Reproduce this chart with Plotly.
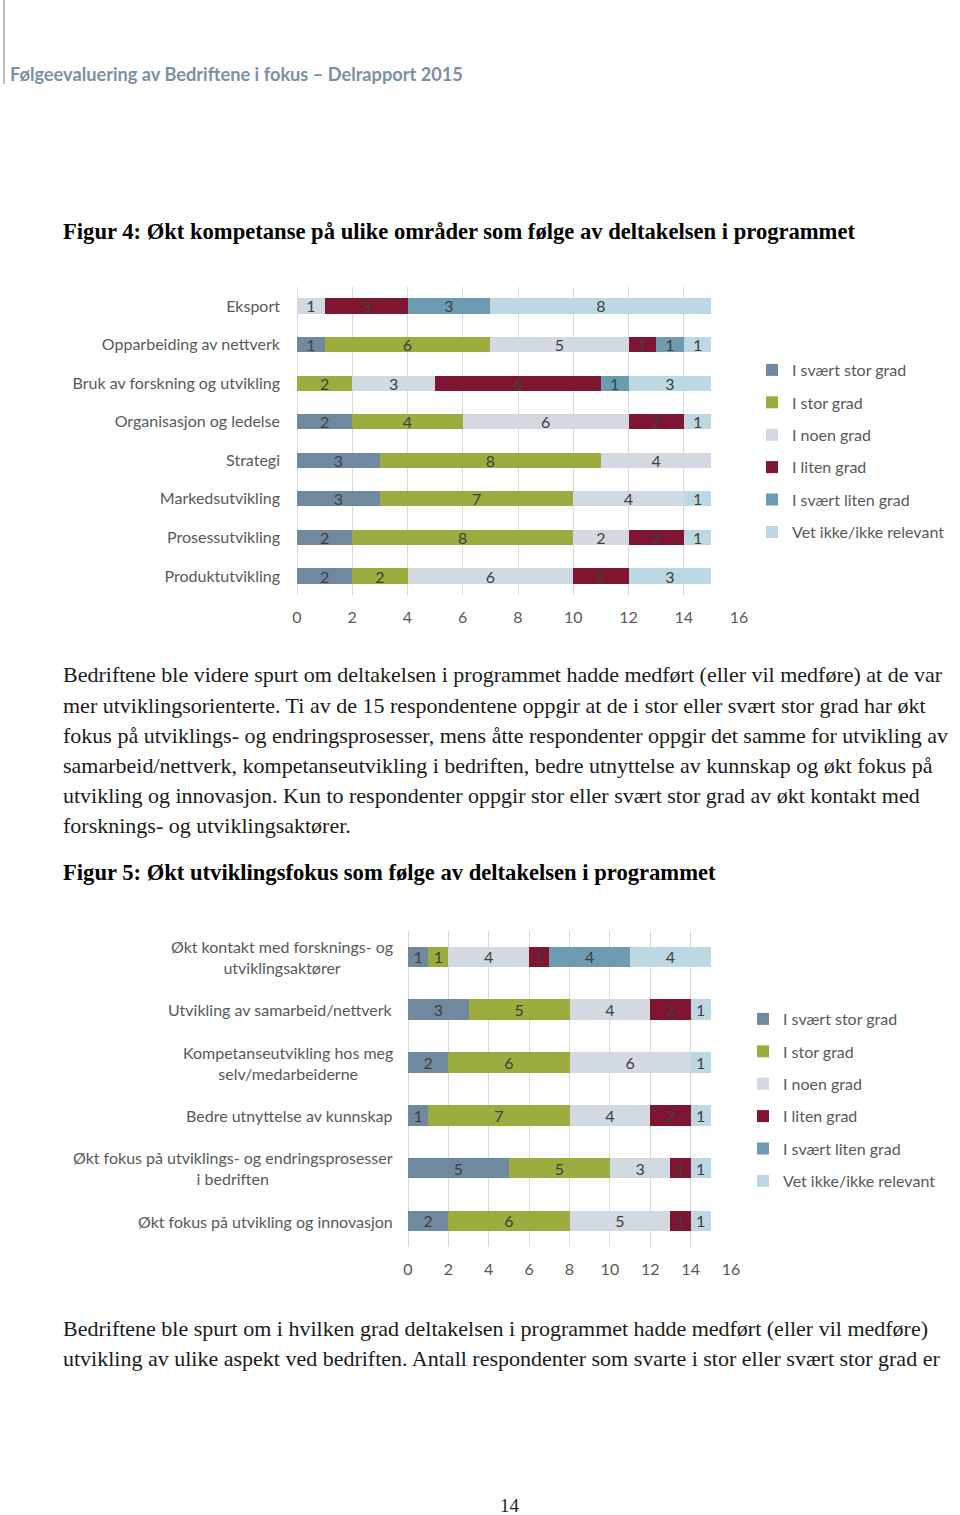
import plotly.graph_objects as go

W, H = 960, 1515

# ---------------- data ----------------
series = ["I svært stor grad", "I stor grad", "I noen grad", "I liten grad",
          "I svært liten grad", "Vet ikke/ikke relevant"]
colors = ["#70899f", "#9cac3e", "#d3d9e0", "#7e1632", "#6c9bb2", "#bcd8e3"]

cats1 = ["Eksport", "Opparbeiding av nettverk", "Bruk av forskning og utvikling",
         "Organisasjon og ledelse", "Strategi", "Markedsutvikling",
         "Prosessutvikling", "Produktutvikling"]
svaert_stor1 = [0, 1, 0, 2, 3, 3, 2, 2]
stor1 = [0, 6, 2, 4, 8, 7, 8, 2]
noen1 = [1, 5, 3, 6, 4, 4, 2, 6]
liten1 = [3, 1, 6, 2, 0, 0, 2, 2]
svaert_liten1 = [3, 1, 1, 0, 0, 0, 0, 0]
vet_ikke1 = [8, 1, 3, 1, 0, 1, 1, 3]

cats2 = ["Økt kontakt med forsknings- og<br>utviklingsaktører",
         "Utvikling av samarbeid/nettverk",
         "Kompetanseutvikling hos meg<br>selv/medarbeiderne",
         "Bedre utnyttelse av kunnskap",
         "Økt fokus på utviklings- og endringsprosesser<br>i bedriften",
         "Økt fokus på utvikling og innovasjon"]
svaert_stor2 = [1, 3, 2, 1, 5, 2]
stor2 = [1, 5, 6, 7, 5, 6]
noen2 = [4, 4, 6, 4, 3, 5]
liten2 = [1, 2, 0, 2, 1, 1]
svaert_liten2 = [4, 0, 0, 0, 0, 0]
vet_ikke2 = [4, 1, 1, 1, 1, 1]

xticks = [0, 2, 4, 6, 8, 10, 12, 14, 16]

header = "Følgeevaluering av Bedriftene i fokus – Delrapport 2015"
title4 = "Figur 4: Økt kompetanse på ulike områder som følge av deltakelsen i programmet"
title5 = "Figur 5: Økt utviklingsfokus som følge av deltakelsen i programmet"
para1 = [
    "Bedriftene ble videre spurt om deltakelsen i programmet hadde medført (eller vil medføre) at de var",
    "mer utviklingsorienterte. Ti av de 15 respondentene oppgir at de i stor eller svært stor grad har økt",
    "fokus på utviklings- og endringsprosesser, mens åtte respondenter oppgir det samme for utvikling av",
    "samarbeid/nettverk, kompetanseutvikling i bedriften, bedre utnyttelse av kunnskap og økt fokus på",
    "utvikling og innovasjon. Kun to respondenter oppgir stor eller svært stor grad av økt kontakt med",
    "forsknings- og utviklingsaktører.",
]
para2 = [
    "Bedriftene ble spurt om i hvilken grad deltakelsen i programmet hadde medført (eller vil medføre)",
    "utvikling av ulike aspekt ved bedriften. Antall respondenter som svarte i stor eller svært stor grad er",
]
page_no = "14"

# ---------------- helpers ----------------
def px(x):
    return x / W

def py(y):
    return 1 - y / H

SANS = "Lato, 'Open Sans', sans-serif"
SERIF = "'Liberation Serif', 'DejaVu Serif', serif"
GRAY = "#595959"
FS = 16

fig = go.Figure()

data1 = [svaert_stor1, stor1, noen1, liten1, svaert_liten1, vet_ikke1]
data2 = [svaert_stor2, stor2, noen2, liten2, svaert_liten2, vet_ikke2]

for i, (name, col) in enumerate(zip(series, colors)):
    vals = [v if v else None for v in data1[i]]
    fig.add_trace(go.Bar(
        y=cats1, x=vals, name=name, orientation="h", width=0.39,
        marker=dict(color=col, line=dict(width=0)),
        text=vals, textposition="inside", insidetextanchor="middle",
        textangle=0, textfont=dict(family=SANS, size=FS, color="#404040"),
        xaxis="x", yaxis="y", legend="legend", legendgroup=f"a{i}",
        hoverinfo="skip",
    ))
for i, (name, col) in enumerate(zip(series, colors)):
    vals = [v if v else None for v in data2[i]]
    fig.add_trace(go.Bar(
        y=cats2, x=vals, name=name, orientation="h", width=0.39,
        marker=dict(color=col, line=dict(width=0)),
        text=vals, textposition="inside", insidetextanchor="middle",
        textangle=0, textfont=dict(family=SANS, size=FS, color="#404040"),
        xaxis="x2", yaxis="y2", legend="legend2", legendgroup=f"b{i}",
        hoverinfo="skip",
    ))

axis_common = dict(range=[0, 16], tickvals=xticks, showgrid=True,
                   gridcolor="#d9d9d9", gridwidth=1, zeroline=True,
                   zerolinecolor="#d9d9d9", zerolinewidth=1, showline=False,
                   ticks="", tickfont=dict(family=SANS, size=FS, color=GRAY),
                   fixedrange=True)

legend_common = dict(font=dict(family=SANS, size=FS, color=GRAY),
                     traceorder="grouped", tracegroupgap=8.6,
                     bgcolor="rgba(0,0,0,0)", borderwidth=0,
                     xanchor="left", yanchor="top")

annotations = []
annotations.append(dict(text=f"<b>{header}</b>", x=px(8), y=py(74), xref="paper", yref="paper",
                        xanchor="left", yanchor="middle", showarrow=False,
                        font=dict(family=SANS, size=18.2, color="#7b91a3")))
for t, yy in ((title4, 231), (title5, 873)):
    annotations.append(dict(text=f"<b>{t}</b>", x=px(61), y=py(yy), xref="paper", yref="paper",
                            xanchor="left", yanchor="middle", showarrow=False,
                            font=dict(family=SERIF, size=22.6, color="#000000")))
for k, line in enumerate(para1):
    annotations.append(dict(text=line, x=px(61), y=py(675 + 30 * k), xref="paper", yref="paper",
                            xanchor="left", yanchor="middle", showarrow=False,
                            font=dict(family=SERIF, size=22, color="#1a1a1a")))
for k, line in enumerate(para2):
    annotations.append(dict(text=line, x=px(61), y=py(1328 + 30 * k), xref="paper", yref="paper",
                            xanchor="left", yanchor="middle", showarrow=False,
                            font=dict(family=SERIF, size=22, color="#1a1a1a")))
annotations.append(dict(text=page_no, x=px(510), y=py(1505), xref="paper", yref="paper",
                        xanchor="center", yanchor="middle", showarrow=False,
                        font=dict(family=SERIF, size=19, color="#222222")))
for c in cats2:
    annotations.append(dict(text=c, x=px(395), y=c, xref="paper", yref="y2",
                            xanchor="right", yanchor="middle", align="center",
                            showarrow=False, font=dict(family=SANS, size=FS, color=GRAY)))

fig.update_layout(
    width=W, height=H, margin=dict(l=0, r=0, t=0, b=0, autoexpand=False),
    paper_bgcolor="white", plot_bgcolor="white",
    barmode="stack", bargap=0.6,
    uniformtext=dict(mode="show", minsize=FS),
    showlegend=True,
    xaxis=dict(domain=[px(297), px(739)], anchor="y", ticklabelstandoff=11, **axis_common),
    yaxis=dict(domain=[py(595.3), py(286.7)], anchor="x", categoryorder="array",
               categoryarray=cats1, autorange="reversed", showgrid=False, zeroline=False,
               ticks="", ticklabelstandoff=16,
               tickfont=dict(family=SANS, size=FS, color=GRAY), fixedrange=True),
    xaxis2=dict(domain=[px(408), px(731)], anchor="y2", ticklabelstandoff=11, **axis_common),
    yaxis2=dict(domain=[py(1247.4), py(930.6)], anchor="x2", categoryorder="array",
                categoryarray=cats2, autorange="reversed", showgrid=False, zeroline=False,
                showticklabels=False, ticks="", fixedrange=True),
    legend=dict(x=px(752), y=py(353), **legend_common),
    legend2=dict(x=px(743), y=py(1002), **legend_common),
    annotations=annotations,
    shapes=[dict(type="line", xref="paper", yref="paper", x0=px(4), x1=px(4),
                 y0=py(0), y1=py(84), line=dict(color="#a6a6a6", width=1.5))],
)

fig.write_html("out.html", config={"displayModeBar": False},
               post_script="document.body.style.margin='0';document.body.style.overflow='hidden';")
